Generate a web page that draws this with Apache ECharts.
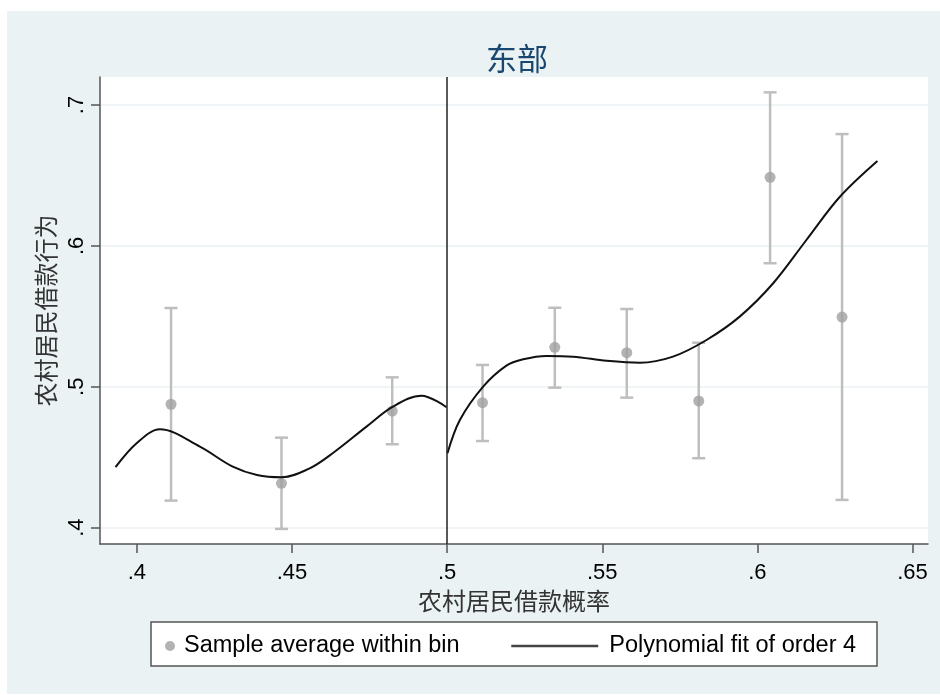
<!DOCTYPE html>
<html>
<head>
<meta charset="utf-8">
<script src="https://cdn.jsdelivr.net/npm/echarts@6/dist/echarts.min.js"></script>
<style>
  html, body { margin: 0; padding: 0; background: #ffffff; }
  #wrap { position: relative; width: 940px; height: 695px; }
  #panel { position: absolute; left: 7px; top: 11px; width: 933px; height: 683px; background: #EAF2F3; }
  #chart { position: absolute; left: 0; top: 0; width: 940px; height: 695px; }
</style>
</head>
<body>
<div id="wrap">
  <div id="panel"></div>
  <div id="chart"></div>
</div>
<script>
// Bin centres and sample means with their confidence bounds
const binX    = [0.4110, 0.4466, 0.4823, 0.5114, 0.5347, 0.5579, 0.5811, 0.6041, 0.6273];
const binMean = [0.4876, 0.4315, 0.4828, 0.4887, 0.5280, 0.5242, 0.4899, 0.6487, 0.5495];
const ciLow   = [0.4192, 0.3991, 0.4592, 0.4615, 0.4994, 0.4923, 0.4493, 0.5877, 0.4197];
const ciHigh  = [0.5559, 0.4639, 0.5067, 0.5155, 0.5561, 0.5552, 0.5313, 0.7090, 0.6794];

// Fitted polynomial, left of the cutoff
const fitLeftX = [0.3931, 0.3999, 0.4074, 0.4203, 0.4309, 0.4387, 0.4466, 0.4557, 0.4632, 0.4740, 0.4825, 0.4917, 0.4998];
const fitLeftY = [0.4429, 0.4599, 0.4698, 0.4575, 0.4433, 0.4374, 0.4358, 0.4421, 0.4530, 0.4717, 0.4859, 0.4937, 0.4855];

// Fitted polynomial, right of the cutoff
const fitRightX = [0.5001, 0.5041, 0.5116, 0.5191, 0.5245, 0.5320, 0.5406, 0.5514, 0.5621, 0.5728, 0.5836, 0.5943, 0.6051, 0.6158, 0.6266, 0.6387];
const fitRightY = [0.4528, 0.4764, 0.5001, 0.5150, 0.5195, 0.5219, 0.5214, 0.5185, 0.5171, 0.5214, 0.5332, 0.5498, 0.5735, 0.6042, 0.6349, 0.6603];

const cutoff = 0.5;

// Axis ticks
const xTicks = [0.40, 0.45, 0.50, 0.55, 0.60, 0.65];
const yTicks = [0.4, 0.5, 0.6, 0.7];

const titleText = '东部';
const xName = '农村居民借款概率';
const yName = '农村居民借款行为';
const nameDots = 'Sample average within bin';
const nameFit = 'Polynomial fit of order 4';

const fmt = v => {
  const s = (Math.round(v * 100) / 100).toString();
  return s.replace(/^0/, '');
};

const pair = (xs, ys) => xs.map((x, i) => [x, ys[i]]);

const chart = echarts.init(document.getElementById('chart'), null, { renderer: 'canvas' });

const latin = '"Liberation Sans", Arial, sans-serif';
const cjk = '"Noto Sans CJK SC", sans-serif';

chart.setOption({
  animation: false,
  title: {
    text: titleText,
    left: 512,
    top: 38,
    textAlign: 'center',
    textStyle: { fontFamily: cjk, fontSize: 31, fontWeight: 'normal', color: '#1A476F' }
  },
  grid: {
    left: 100, right: 12, top: 77, bottom: 151,
    show: true, backgroundColor: '#ffffff', borderWidth: 0
  },
  xAxis: {
    type: 'value',
    min: 0.3881, max: 0.655,
    name: xName,
    nameLocation: 'middle',
    nameGap: 42,
    nameTextStyle: { fontFamily: cjk, fontSize: 24, color: '#333333' },
    axisLine: { show: true, onZero: false, lineStyle: { color: '#555555', width: 1.5 } },
    axisTick: { show: true, length: 9, customValues: xTicks, lineStyle: { color: '#555555', width: 1.5 } },
    axisLabel: { customValues: xTicks, formatter: fmt, margin: 18, fontFamily: latin, fontSize: 22, color: '#000000' },
    splitLine: { show: false }
  },
  yAxis: {
    type: 'value',
    min: 0.3884, max: 0.7199,
    name: yName,
    nameLocation: 'middle',
    nameGap: 34,
    nameTextStyle: { fontFamily: cjk, fontSize: 24, color: '#333333' },
    axisLine: { show: true, onZero: false, lineStyle: { color: '#555555', width: 1.5 } },
    axisTick: { show: true, length: 9, customValues: yTicks, lineStyle: { color: '#555555', width: 1.5 } },
    axisLabel: { customValues: yTicks, formatter: fmt, rotate: 90, margin: 12, fontFamily: latin, fontSize: 22, color: '#000000' },
    splitLine: { show: true, lineStyle: { color: '#EAF2F3', width: 1.5 } }
  },
  graphic: [{
    type: 'rect',
    z: 1,
    shape: { x: 151, y: 622, width: 726, height: 44 },
    style: { fill: '#ffffff', stroke: '#555555', lineWidth: 1.5 }
  }],
  legend: [{
    data: [{ name: nameDots, icon: 'circle' }],
    left: 160, top: 629,
    itemWidth: 10, itemHeight: 10,
    textStyle: { fontFamily: latin, fontSize: 23.5, color: '#000000', padding: [0, 0, 0, 4] },
    selectedMode: false
  }, {
    data: [{ name: nameFit }],
    left: 505, top: 629,
    itemWidth: 87, itemHeight: 10,
    itemStyle: { opacity: 0 },
    lineStyle: { color: '#444444', width: 2.5 },
    textStyle: { fontFamily: latin, fontSize: 23.5, color: '#000000', padding: [0, 0, 0, 6] },
    selectedMode: false
  }],
  series: [
    {
      name: 'ci',
      type: 'custom',
      silent: true,
      z: 2,
      data: binX.map((x, i) => [x, ciLow[i], ciHigh[i]]),
      encode: { x: 0, y: [1, 2] },
      renderItem: (params, api) => {
        const x = api.value(0);
        const lo = api.coord([x, api.value(1)]);
        const hi = api.coord([x, api.value(2)]);
        const half = 6.5;
        const st = { stroke: '#BEBEBE', lineWidth: 2.5, fill: null };
        return {
          type: 'group',
          children: [
            { type: 'line', shape: { x1: lo[0], y1: lo[1], x2: hi[0], y2: hi[1] }, style: st },
            { type: 'line', shape: { x1: lo[0] - half, y1: lo[1], x2: lo[0] + half, y2: lo[1] }, style: st },
            { type: 'line', shape: { x1: hi[0] - half, y1: hi[1], x2: hi[0] + half, y2: hi[1] }, style: st }
          ]
        };
      }
    },
    {
      name: nameDots,
      type: 'scatter',
      z: 3,
      symbol: 'circle',
      symbolSize: 11,
      itemStyle: { color: '#A0A0A0' },
      data: pair(binX, binMean)
    },
    {
      name: nameFit,
      type: 'line',
      z: 4,
      symbol: 'none',
      smooth: 0.35,
      lineStyle: { color: '#111111', width: 2 },
      itemStyle: { color: '#333333' },
      data: pair(fitLeftX, fitLeftY),
      markLine: {
        silent: true,
        symbol: 'none',
        label: { show: false },
        lineStyle: { color: '#222222', width: 1.5, type: 'solid' },
        data: [{ xAxis: cutoff }]
      }
    },
    {
      name: nameFit,
      type: 'line',
      z: 4,
      symbol: 'none',
      smooth: 0.35,
      lineStyle: { color: '#111111', width: 2 },
      itemStyle: { color: '#333333' },
      data: pair(fitRightX, fitRightY)
    }
  ]
});
</script>
</body>
</html>
